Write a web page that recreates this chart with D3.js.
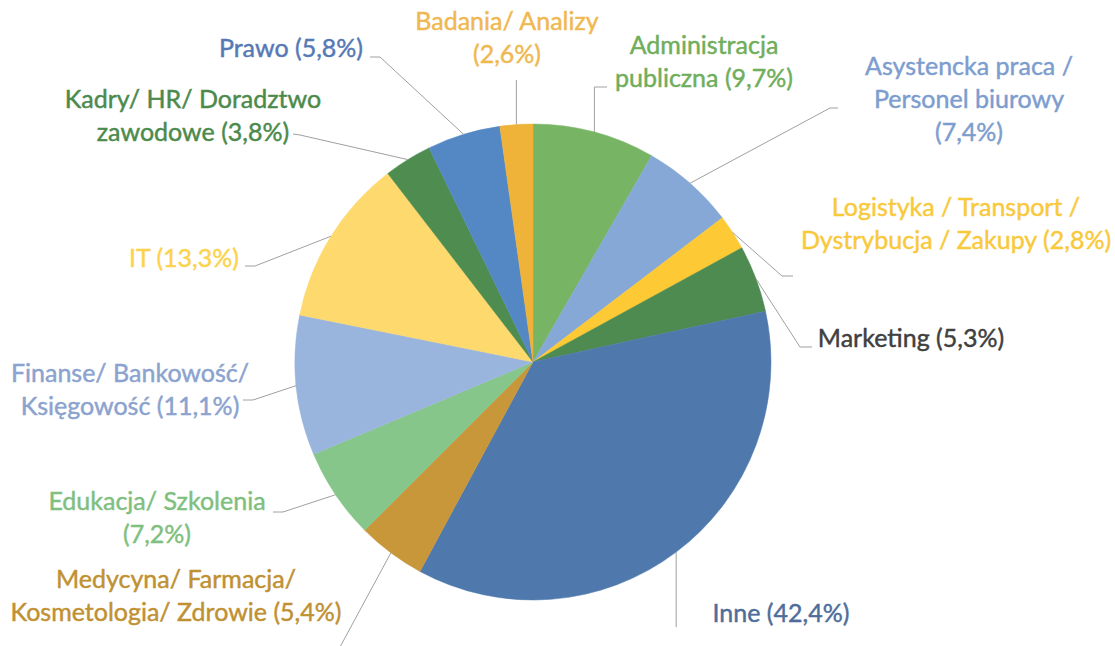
<!DOCTYPE html>
<html>
<head>
<meta charset="utf-8">
<script src="https://cdn.jsdelivr.net/npm/d3@7"></script>
<style>
  html, body { margin: 0; padding: 0; background: #fff; }
  svg text { font-family: Lato, "Open Sans", sans-serif; }
</style>
</head>
<body>
<div id="chart"></div>
<script>
"use strict";

// slices, clockwise from 12 o'clock
var categories = ["Administracja publiczna", "Asystencka praca / Personel biurowy",
  "Logistyka / Transport / Dystrybucja / Zakupy", "Marketing", "Inne",
  "Medycyna/ Farmacja/ Kosmetologia/ Zdrowie", "Edukacja/ Szkolenia",
  "Finanse/ Bankowość/ Księgowość", "IT", "Kadry/ HR/ Doradztwo zawodowe",
  "Prawo", "Badania/ Analizy"];
var values = [9.7, 7.4, 2.8, 5.3, 42.4, 5.4, 7.2, 11.1, 13.3, 3.8, 5.8, 2.6];

// label text, broken into lines as in the original
var labelLines = [
  ["Administracja", "publiczna (9,7%)"],
  ["Asystencka praca /", "Personel biurowy", "(7,4%)"],
  ["Logistyka / Transport /", "Dystrybucja / Zakupy (2,8%)"],
  ["Marketing (5,3%)"],
  ["Inne (42,4%)"],
  ["Medycyna/ Farmacja/", "Kosmetologia/ Zdrowie (5,4%)"],
  ["Edukacja/ Szkolenia", "(7,2%)"],
  ["Finanse/ Bankowość/", "Księgowość (11,1%)"],
  ["IT (13,3%)"],
  ["Kadry/ HR/ Doradztwo", "zawodowe (3,8%)"],
  ["Prawo (5,8%)"],
  ["Badania/ Analizy", "(2,6%)"]
];

var sliceColors = ["#77b565", "#86a8d6", "#fdc935", "#4e8b51", "#4f79ac", "#c8973a",
  "#87c68a", "#9ab5dd", "#fed96d", "#4f8c4f", "#5488c4", "#efb33a"];
var textColors = ["#6fae5a", "#7d9dcf", "#f9c93c", "#404040", "#4f6d9a", "#c09132",
  "#7fbf80", "#8ba3cf", "#fdd34d", "#4c8a4c", "#5679b5", "#f0b850"];

// label placement: centre x, first baseline, leader elbow points
// (vertical: leader keeps the x of its start point on the pie edge)
var labelPos = [
  {x: 704, y: 54,  elbow: [[594, 87], [607, 87]], vertical: true},
  {x: 969, y: 75,  elbow: [[830, 108], [838, 108]]},
  {x: 956, y: 216, elbow: [[782, 276], [793, 276]]},
  {x: 911, y: 347, elbow: [[800, 347], [812, 347]]},
  {x: 781, y: 622, elbow: [[676, 627]], vertical: true},
  {x: 176, y: 588, elbow: [[333, 660]]},
  {x: 157, y: 510, elbow: [[283, 512], [273, 512]]},
  {x: 130, y: 382, elbow: [[253, 400], [243, 400]]},
  {x: 184, y: 267, elbow: [[255, 266], [245, 266]]},
  {x: 193, y: 108, elbow: [[300, 135], [293, 134]]},
  {x: 291, y: 57,  elbow: [[380, 57], [370, 57]]},
  {x: 507, y: 30,  elbow: [[516, 80]], vertical: true}
];

var width = 1115,
    height = 646,
    cx = 533,
    cy = 362,
    radius = 238,
    lineHeight = 33;

var svg = d3.select("#chart").append("svg")
    .attr("width", width)
    .attr("height", height);

var pie = d3.pie().sort(null).value(function(d) { return d; });
var arc = d3.arc().innerRadius(0).outerRadius(radius);
var arcs = pie(values);

var g = svg.append("g")
    .attr("transform", "translate(" + cx + "," + cy + ")");

g.selectAll("path.slice")
    .data(arcs)
  .enter().append("path")
    .attr("class", "slice")
    .attr("d", arc)
    .style("fill", function(d, i) { return sliceColors[i]; })
    .style("stroke", function(d, i) { return sliceColors[i]; })
    .style("stroke-width", 0.5);

// leader lines start on the outer edge at the middle angle of each slice
var line = d3.line();
svg.selectAll("path.leader")
    .data(arcs)
  .enter().append("path")
    .attr("class", "leader")
    .attr("d", function(d, i) {
      var a = (d.startAngle + d.endAngle) / 2,
          start = [cx + radius * Math.sin(a), cy - radius * Math.cos(a)],
          pos = labelPos[i];
      var pts = pos.elbow.map(function(p, k) {
        return pos.vertical && k === 0 ? [start[0], p[1]] : p;
      });
      return line([start].concat(pts));
    })
    .style("fill", "none")
    .style("stroke", "#a0a0a0")
    .style("stroke-width", 1);

var labels = svg.selectAll("text.label")
    .data(labelLines)
  .enter().append("text")
    .attr("class", "label")
    .attr("text-anchor", "middle")
    .style("font-size", "25px")
    .style("fill", function(d, i) { return textColors[i]; })
    .style("stroke", function(d, i) { return textColors[i]; })
    .style("stroke-width", 0.45);

labels.each(function(lines, i) {
  var t = d3.select(this);
  lines.forEach(function(s, k) {
    t.append("tspan")
      .attr("x", labelPos[i].x)
      .attr("y", labelPos[i].y + k * lineHeight)
      .text(s);
  });
});
</script>
</body>
</html>
